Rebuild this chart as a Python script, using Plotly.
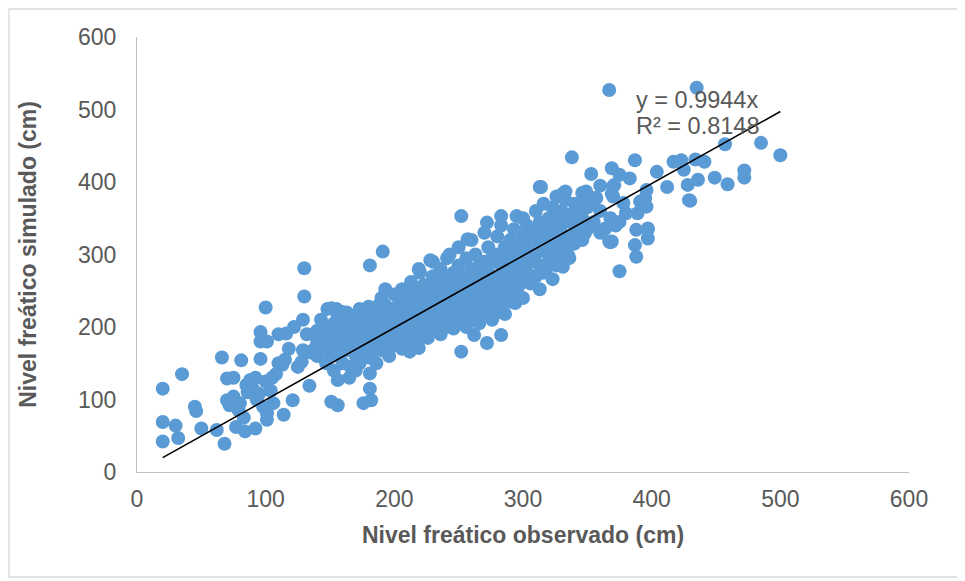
import plotly.graph_objects as go

# ---- data (cm) ----
obs_low = [20, 20, 20, 35, 30, 32, 45, 46, 50, 62, 68, 66, 81, 70, 70, 72, 77, 84, 92, 75,
           80, 85, 90, 93, 100, 96, 96, 101, 96, 105, 110, 113, 125, 134, 121, 114, 101, 101,
           130, 130, 129, 88, 95, 100, 104, 108, 115, 118, 116, 122, 129, 132, 140, 138, 106,
           98, 92, 86, 79, 83, 75, 110, 128, 135]
sim_low = [115, 69, 42, 135, 64, 47, 90, 84, 60, 58, 39, 158, 154, 129, 99, 92, 62, 56, 60, 104,
           95, 120, 115, 100, 227, 193, 180, 180, 156, 130, 150, 148, 145, 119, 99, 79, 81, 72,
           242, 281, 168, 127, 108, 125, 112, 135, 155, 170, 191, 200, 210, 190, 185, 170, 95,
           90, 130, 110, 85, 75, 130, 190, 152, 165]

obs_mid = [151, 156, 176, 181, 182, 181, 156, 181, 191, 193, 151, 159, 212, 219, 252, 272,
           262, 283, 294, 252, 283, 295, 272, 257, 228, 241, 219, 165, 170, 148, 155, 313]
sim_mid = [97, 92, 95, 115, 99, 136, 127, 285, 304, 252, 226, 221, 166, 171, 166, 178,
           189, 189, 233, 353, 353, 353, 344, 321, 292, 295, 280, 130, 140, 225, 225, 252]

obs_high = [313, 331, 323, 307, 331, 335, 338, 387, 353, 369, 375, 383, 404, 417, 423, 434,
            441, 412, 428, 436, 449, 429, 314, 333, 349, 356, 369, 371, 396, 395, 375, 388,
            387, 397, 397, 364, 367, 347, 338, 313, 396, 391, 378, 367, 435, 457, 485, 500,
            472, 472, 459, 370, 370, 349, 357, 368, 375, 380, 372, 348, 369, 388, 397, 389,
            333, 329, 368, 425, 430]
sim_high = [393, 384, 266, 269, 283, 299, 434, 430, 411, 419, 410, 405, 414, 428, 430, 431,
            428, 393, 396, 403, 406, 375, 393, 387, 387, 378, 384, 396, 389, 378, 277, 297,
            313, 336, 322, 336, 318, 331, 315, 325, 366, 373, 371, 527, 530, 452, 454, 437,
            416, 406, 397, 394, 380, 378, 378, 350, 345, 357, 340, 329, 318, 334, 334, 357,
            299, 286, 317, 417, 374]

core_obs = [140, 143, 147, 150, 153, 156, 160, 163, 166, 170, 173, 176, 180, 183, 186, 190,
            193, 196, 200, 203, 206, 210, 213, 216, 220, 223, 226, 230, 233, 236, 240, 243,
            246, 250, 253, 256, 260, 263, 266, 270, 273, 276, 280, 283, 286, 290, 293, 296,
            300, 303, 306, 310, 313, 316, 320, 323, 326, 330, 333, 336, 340, 343, 346, 350,
            355, 360]
core_sim = [[160, 178, 195], [170, 210], [150, 185, 200], [165, 178, 192], [140, 172, 205],
            [160, 188, 215], [150, 175, 198], [168, 185, 220], [145, 190, 205],
            [160, 178, 196, 212], [150, 185, 225], [170, 200, 218], [158, 182, 195, 228],
            [165, 210], [150, 175, 190, 220], [168, 200, 215, 240], [180, 195, 230],
            [160, 188, 208], [175, 195, 218, 245], [185, 205, 230], [170, 192, 212, 252],
            [182, 200, 225, 240], [195, 215, 262], [178, 205, 230, 250], [190, 212, 240, 275],
            [200, 225, 258], [185, 210, 235, 250], [195, 220, 245, 270, 290], [205, 232, 260],
            [190, 215, 240, 280], [200, 225, 250, 265], [210, 235, 262, 300],
            [198, 222, 245, 275], [205, 230, 255, 285, 310], [215, 240, 268],
            [200, 225, 250, 295], [210, 235, 262, 280, 320], [220, 245, 270, 300],
            [205, 232, 258, 285], [215, 240, 265, 290, 330], [225, 250, 275, 310],
            [210, 238, 262, 295], [220, 245, 270, 300, 325], [230, 258, 285, 340],
            [218, 248, 275, 310], [235, 260, 288, 320], [245, 270, 300, 335], [255, 280, 310],
            [240, 265, 295, 325, 350], [275, 305, 340], [260, 290, 318], [270, 300, 330, 360],
            [285, 315, 345], [275, 305, 338, 370], [290, 320, 350], [300, 335, 365],
            [285, 315, 345, 380], [300, 330, 360], [310, 345, 375], [295, 325, 355],
            [315, 340, 370], [330, 360], [320, 350, 385], [335, 365], [345, 375],
            [330, 360, 395]]

core2_obs = [145, 158, 168, 178, 188, 198, 208, 218, 228, 238, 248, 258, 268, 278, 288,
             298, 308, 318, 328]
core2_sim = [[175, 190], [168, 195, 208], [172, 185, 215], [175, 190, 210], [182, 198, 230],
             [185, 205, 225], [195, 220, 238], [200, 218, 245], [205, 230, 260],
             [210, 235, 255], [215, 240, 265], [220, 245, 272], [230, 255, 280],
             [240, 262, 290], [250, 275, 300], [260, 285, 312], [270, 300, 325],
             [280, 310, 335], [295, 322, 350]]

slope = 0.9944
eq_text = "y = 0.9944x"
r2_text = "R² = 0.8148"

x_title = "Nivel freático observado (cm)"
y_title = "Nivel freático simulado (cm)"

# ---- build ----
obs = obs_low + obs_mid + obs_high
sim = sim_low + sim_mid + sim_high
for cx, cy in ((core_obs, core_sim), (core2_obs, core2_sim)):
    for xv, ys in zip(cx, cy):
        for yv in ys:
            obs.append(xv)
            sim.append(yv)

x0, x1 = min(obs), max(obs)

font_fam = "Liberation Sans, Arial, sans-serif"
grey = "#595959"

fig = go.Figure()
fig.add_trace(go.Scatter(
    x=obs, y=sim, mode="markers",
    marker=dict(color="#5B9BD5", size=14, line=dict(width=0)),
    showlegend=False, hoverinfo="x+y"))
fig.add_trace(go.Scatter(
    x=[x0, x1], y=[slope * x0, slope * x1], mode="lines",
    line=dict(color="black", width=1.6), showlegend=False, hoverinfo="skip"))

fig.add_annotation(x=386, y=513, xref="x", yref="y", text=eq_text, showarrow=False,
                   xanchor="left", yanchor="middle", font=dict(size=23.5, color=grey, family=font_fam))
fig.add_annotation(x=386, y=477, xref="x", yref="y", text=r2_text, showarrow=False,
                   xanchor="left", yanchor="middle", font=dict(size=23.5, color=grey, family=font_fam))

# outer chart border
fig.add_shape(type="rect", xref="paper", yref="paper",
              x0=-0.1658, x1=1.0648, y0=-0.2414, y1=1.0644,
              line=dict(color="#D9D9D9", width=1.3), layer="below")

fig.update_layout(
    width=965, height=581,
    margin=dict(l=129, r=64, t=29, b=117),
    plot_bgcolor="white", paper_bgcolor="white",
    font=dict(family=font_fam, color=grey, size=23),
    xaxis=dict(range=[0, 600], dtick=100, tick0=0, showgrid=False, zeroline=False,
               showline=True, linecolor="#BFBFBF", linewidth=1.3,
               ticks="outside", ticklen=6, tickcolor="rgba(0,0,0,0)",
               tickfont=dict(size=23, color=grey),
               title=dict(text="<b>" + x_title + "</b>", font=dict(size=23, color=grey), standoff=16)),
    yaxis=dict(range=[0, 600], dtick=100, tick0=0, showgrid=False, zeroline=False,
               showline=True, linecolor="#BFBFBF", linewidth=1.3,
               ticks="outside", ticklen=15, tickcolor="rgba(0,0,0,0)",
               tickfont=dict(size=23, color=grey),
               title=dict(text="<b>" + y_title + "</b>", font=dict(size=23, color=grey), standoff=34)),
)

fig.write_html("out.html")
